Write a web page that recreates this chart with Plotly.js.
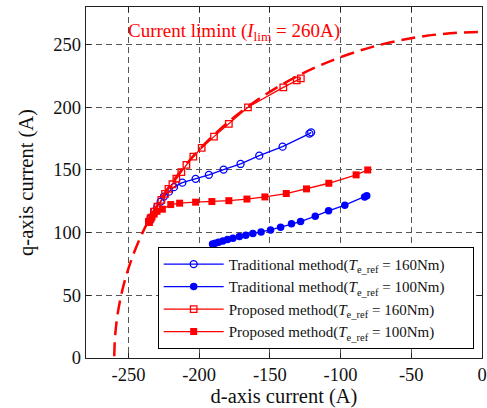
<!DOCTYPE html>
<html>
<head>
<meta charset="utf-8">
<script src="https://cdn.plot.ly/plotly-3.0.1.min.js"></script>
<style>html,body{margin:0;padding:0;background:#fff;}#chart{width:487px;height:408px;}</style>
</head>
<body>
<div id="chart"></div>
<script>
// Current limit radius (A)
const I_LIM = 260;

// Traditional method, Te_ref = 160Nm (open circles)
const trad160_id = [-235.4, -234.3, -231.9, -229.5, -227.2, -224.9, -221.3, -217.8, -211.9, -202.5, -193.1, -182.7, -170.7, -157.5, -141.0, -122.0, -120.8];
const trad160_iq = [108.9, 111.6, 116.8, 120.8, 124.8, 128.8, 132.7, 136.3, 139.9, 142.9, 146.1, 150.3, 154.8, 161.4, 168.6, 179.0, 180.0];

// Traditional method, Te_ref = 100Nm (filled circles)
const trad100_id = [-190.5, -188.6, -186.3, -183.2, -179.9, -176.1, -171.5, -167.0, -162.0, -156.2, -149.5, -142.4, -134.7, -128.3, -117.9, -108.5, -97.0, -83.0, -81.5];
const trad100_iq = [91.0, 91.6, 92.4, 93.4, 94.5, 95.6, 96.9, 98.0, 99.3, 100.6, 102.2, 104.4, 107.0, 108.8, 113.1, 117.4, 121.9, 128.5, 129.5];

// Proposed method, Te_ref = 160Nm (open squares)
const prop160_id = [-235.5, -234.3, -231.9, -229.5, -226.7, -224.1, -221.7, -218.9, -216.1, -212.6, -209.0, -204.1, -198.2, -189.5, -179.0, -165.5, -140.5, -131.0, -128.1];
const prop160_iq = [108.5, 111.6, 116.8, 120.8, 126.1, 130.9, 134.9, 138.6, 143.0, 148.2, 154.0, 160.6, 167.6, 176.6, 186.7, 200.0, 215.9, 221.5, 223.1];

// Proposed method, Te_ref = 100Nm (filled squares)
const prop100_id = [-235.5, -234.5, -233.3, -231.8, -229.8, -226.0, -220.1, -213.8, -202.5, -191.0, -179.0, -166.2, -153.5, -138.4, -124.1, -108.3, -89.0, -80.8];
const prop100_iq = [108.3, 110.3, 112.5, 114.8, 117.0, 118.7, 122.4, 123.5, 124.3, 124.8, 125.5, 126.8, 128.5, 131.2, 134.9, 139.4, 146.1, 150.0];

// Axis ticks
const xTicks = [-250, -200, -150, -100, -50, 0];
const yTicks = [0, 50, 100, 150, 200, 250];

// Legend labels
const legendNames = [
  'Traditional method(<i>T</i><sub>e_ref</sub> = 160Nm)',
  'Traditional method(<i>T</i><sub>e_ref</sub> = 100Nm)',
  'Proposed method(<i>T</i><sub>e_ref</sub> = 160Nm)',
  'Proposed method(<i>T</i><sub>e_ref</sub> = 100Nm)'
];
const PAD = '\u00A0\u00A0\u00A0\u00A0\u00A0\u00A0';

const FONT = "'Liberation Serif', 'Times New Roman', serif";
const BLUE = '#0000ff';
const RED = '#ff0000';

const traces = [
  {x: trad160_id, y: trad160_iq, mode: 'lines+markers', name: legendNames[0] + PAD,
   line: {color: BLUE, width: 1.3}, marker: {symbol: 'circle-open', size: 7, color: BLUE, line: {width: 1.3, color: BLUE}}},
  {x: trad100_id, y: trad100_iq, mode: 'lines+markers', name: legendNames[1] + PAD,
   line: {color: BLUE, width: 1.3}, marker: {symbol: 'circle', size: 7.5, color: BLUE}},
  {x: prop160_id, y: prop160_iq, mode: 'lines+markers', name: legendNames[2] + PAD,
   line: {color: RED, width: 1.3}, marker: {symbol: 'square-open', size: 6.5, color: RED, line: {width: 1.3, color: RED}}},
  {x: prop100_id, y: prop100_iq, mode: 'lines+markers', name: legendNames[3] + PAD,
   line: {color: RED, width: 1.3}, marker: {symbol: 'square', size: 7, color: RED}}
];

const axisCommon = {
  showline: true, linecolor: '#222', linewidth: 1.2, mirror: 'ticks',
  ticks: 'inside', ticklen: 5, tickcolor: '#222',
  showgrid: true, gridcolor: '#555', gridwidth: 1, griddash: '6px,4px',
  zeroline: false,
  tickfont: {family: FONT, size: 18.5, color: '#111'}
};

const layout = {
  width: 487, height: 408,
  margin: {l: 86, r: 5, t: 7, b: 50},
  paper_bgcolor: '#fff', plot_bgcolor: '#fff',
  font: {family: FONT, color: '#111'},
  xaxis: Object.assign({}, axisCommon, {
    range: [-280, 0], tickvals: xTicks, ticktext: xTicks.map(String),
    title: {text: 'd-axis current (A)', font: {family: FONT, size: 20.5, color: '#111'}, standoff: 3}
  }),
  yaxis: Object.assign({}, axisCommon, {
    range: [0, 280], tickvals: yTicks, ticktext: yTicks.map(String),
    title: {text: 'q-axis current (A)', font: {family: FONT, size: 20.5, color: '#111'}, standoff: 14}
  }),
  shapes: [{
    type: 'circle', xref: 'x', yref: 'y',
    x0: -I_LIM, x1: I_LIM, y0: -I_LIM, y1: I_LIM,
    line: {color: RED, width: 2.5, dash: '14px,7px'}, layer: 'above'
  }],
  annotations: [{
    x: -252, y: 260, xref: 'x', yref: 'y', xanchor: 'left', yanchor: 'middle', showarrow: false,
    text: 'Current limint (<i>I</i><sub>lim</sub> = ' + I_LIM + 'A)',
    font: {family: FONT, size: 19, color: RED}
  }],
  showlegend: true,
  legend: {
    x: 0.181, y: 0.026, xanchor: 'left', yanchor: 'bottom',
    bgcolor: '#fff', bordercolor: '#000', borderwidth: 1,
    font: {family: FONT, size: 15, color: '#111'},
    itemwidth: 60, tracegroupgap: 0
  }
};

Plotly.newPlot('chart', traces, layout, {displayModeBar: false, staticPlot: true});
</script>
</body>
</html>
